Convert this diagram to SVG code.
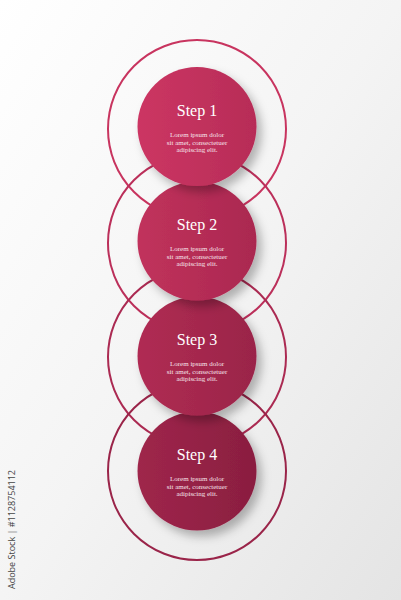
<svg xmlns="http://www.w3.org/2000/svg" width="401" height="600" viewBox="0 0 401 600">
<defs>
<linearGradient id="bg" x1="0" y1="0" x2="1" y2="1">
<stop offset="0" stop-color="#ffffff"/><stop offset="0.5" stop-color="#f4f4f4"/><stop offset="1" stop-color="#e4e4e4"/>
</linearGradient>
<linearGradient id="g1" x1="0" y1="0" x2="1" y2="0"><stop offset="0" stop-color="#cc3663"/><stop offset="1" stop-color="#b72c57"/></linearGradient>
<linearGradient id="g2" x1="0" y1="0" x2="1" y2="0"><stop offset="0" stop-color="#c1325c"/><stop offset="1" stop-color="#aa2850"/></linearGradient>
<linearGradient id="g3" x1="0" y1="0" x2="1" y2="0"><stop offset="0" stop-color="#b02c53"/><stop offset="1" stop-color="#9a2449"/></linearGradient>
<linearGradient id="g4" x1="0" y1="0" x2="1" y2="0"><stop offset="0" stop-color="#9f264b"/><stop offset="1" stop-color="#8a1e40"/></linearGradient>
<filter id="sh" x="-30%" y="-30%" width="160%" height="160%">
<feDropShadow dx="5" dy="6" stdDeviation="5" flood-color="#000" flood-opacity="0.28"/>
</filter>
</defs>
<style>
.ring{fill:none;stroke-width:2}
.t{font-family:"Liberation Serif",serif;fill:#fff;text-anchor:middle}
.h{font-size:16px}
.s{font-size:7px;fill:#f6e4ea}
</style>
<rect width="401" height="600" fill="url(#bg)"/>
<text transform="translate(15,589) rotate(-90)" font-family="Open Sans, sans-serif" font-size="9" fill="#444">Adobe Stock | #1128754112</text>
<g id="connectors">
<circle class="ring" cx="197" cy="129" r="89" stroke="#c8345f"/>
<circle class="ring" cx="197" cy="243" r="89" stroke="#bb2f5a"/>
<circle class="ring" cx="197" cy="357" r="89" stroke="#ab2a52"/>
<circle class="ring" cx="197" cy="471" r="89" stroke="#9a2449"/>
</g>
<g id="step4">
<circle cx="197" cy="471" r="59.5" fill="url(#g4)" filter="url(#sh)"/>
<text class="t h" x="197" y="460">Step 4</text>
<text class="t s" x="197" y="481">Lorem ipsum dolor</text>
<text class="t s" x="197" y="488.5">sit amet, consectetuer</text>
<text class="t s" x="197" y="496">adipiscing elit.</text>
</g>
<g id="step3">
<circle cx="197" cy="356" r="59.5" fill="url(#g3)" filter="url(#sh)"/>
<text class="t h" x="197" y="345">Step 3</text>
<text class="t s" x="197" y="366">Lorem ipsum dolor</text>
<text class="t s" x="197" y="373.5">sit amet, consectetuer</text>
<text class="t s" x="197" y="381">adipiscing elit.</text>
</g>
<g id="step2">
<circle cx="197" cy="241" r="59.5" fill="url(#g2)" filter="url(#sh)"/>
<text class="t h" x="197" y="230">Step 2</text>
<text class="t s" x="197" y="251">Lorem ipsum dolor</text>
<text class="t s" x="197" y="258.5">sit amet, consectetuer</text>
<text class="t s" x="197" y="266">adipiscing elit.</text>
</g>
<g id="step1">
<circle cx="197" cy="126.5" r="59.5" fill="url(#g1)" filter="url(#sh)"/>
<text class="t h" x="197" y="116">Step 1</text>
<text class="t s" x="197" y="137">Lorem ipsum dolor</text>
<text class="t s" x="197" y="144.5">sit amet, consectetuer</text>
<text class="t s" x="197" y="152">adipiscing elit.</text>
</g>
</svg>
